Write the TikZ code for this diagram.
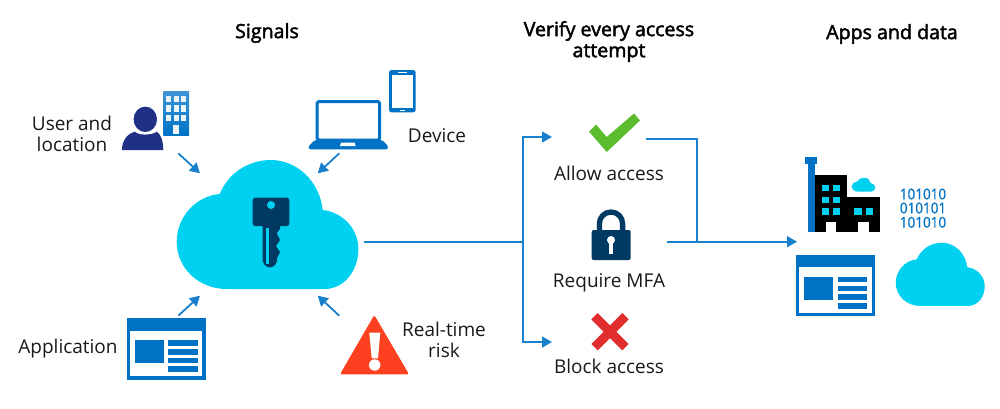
\documentclass[tikz,border=0pt]{standalone}
\usepackage{fontspec}
\setmainfont{Open Sans}
\newfontfamily\headfont[FakeBold=2.2]{Open Sans}
\newfontfamily\bitsfont[FakeStretch=0.9,FakeBold=0.5]{Open Sans}
\usetikzlibrary{arrows.meta}
\definecolor{flowblue}{HTML}{0072C6}
\definecolor{skyblue}{HTML}{00D1F0}
\definecolor{navyblue}{HTML}{003A63}
\definecolor{userblue}{HTML}{1F3085}
\definecolor{checkgreen}{HTML}{5BBD2D}
\definecolor{crossred}{HTML}{E12D2D}
\definecolor{warnred}{HTML}{FC4020}
\tikzset{
  flowline/.style={flowblue!90!white,line width=1.8pt},
  flowarrow/.style={flowline,-{Triangle[length=10pt,width=11pt]}},
  label/.style={font=\fontsize{19}{21}\selectfont,align=center,inner sep=0pt,text=black!90},
  heading/.style={font=\headfont\fontsize{19.6}{21}\selectfont,align=center,inner sep=0pt},
  bits/.style={font=\bitsfont\fontsize{15}{15}\selectfont,text=flowblue,inner sep=0pt},
  cloudshape/.pic={
    \fill (50,129) -- (148,129) .. controls (167,129) and (181.7,111) .. (181.7,89)
      .. controls (181.7,68) and (165,52) .. (146,50) .. controls (143,22) and (121,0) .. (94,0)
      .. controls (71,0) and (51,14) .. (43,34) .. controls (19,36) and (0,57) .. (0,82)
      .. controls (0,108) and (22,129) .. (50,129) -- cycle ;
  },
  appwindow/.pic={
    \fill [flowblue] (0,0) rectangle (79,61.7) ;
    \fill [white] (3.3,12.7) rectangle (75.6,58) ;
    \fill [flowblue] (8,22) rectangle (37.3,45.3) ;
    \fill [flowblue] (41.6,22) rectangle (71.3,27.7) ;
    \fill [flowblue] (41.6,31) rectangle (71.3,36.7) ;
    \fill [flowblue] (41.6,39.7) rectangle (71.3,45.3) ;
    \fill [flowblue] (41.6,48) rectangle (71.3,54) ;
  },
}
\begin{document}
\begin{tikzpicture}[x=1pt,y=-1pt]
                \useasboundingbox (0,0) rectangle (1000,408) ;
                % headings
                \draw (267,33) node [heading] (signals) {Signals} ;
                \draw (609,41.5) node [heading] (verify) {Verify every access\\attempt} ;
                \draw (892,34) node [heading] (apps) {Apps and data} ;
                % signals
                \draw (72,134) node [label] (user) {User and\\location} ;
                \draw (437,135.5) node [label] (device) {Device} ;
                \draw (68,348.5) node [label] (application) {Application} ;
                \draw (444,340) node [label] (risk) {Real-time\\risk} ;
                % person and building
                \fill [userblue] (145.3,119.3) ellipse (11.7 and 12.7) ;
                \fill [userblue] (122,150) .. controls (122,142) and (126,134) .. (135,131.7) .. controls (138,135.5) and (152,135.5) .. (156.7,131.7) .. controls (161,134) and (163.3,142) .. (163.3,150) -- cycle ;
                \shade [top color=flowblue!75!white,bottom color=flowblue] (163.3,91) rectangle (189,135) ;
                \foreach \px in {166,173.7,181.3}
                  \foreach \py in {95.7,105.3,115}
                    \fill [white!92!flowblue] (\px,\py) rectangle (\px+5,\py+6.3) ;
                \fill [white!92!flowblue] (173.3,125.3) rectangle (178.7,134) ;
                % laptop and phone
                \draw [flowblue,line width=3pt,rounded corners=1.5pt] (317.2,101.5) rectangle (379.5,140) ;
                \fill [flowblue,rounded corners=1.5pt] (315,140) -- (382,140) -- (388,146) -- (388,149.3) -- (308.7,149.3) -- (308.7,146) -- cycle ;
                \fill [white] (341,142.7) -- (354.7,142.7) -- (355.7,146) -- (340,146) -- cycle ;
                \fill [flowblue,rounded corners=2.5pt] (389,70) rectangle (415.7,112.3) ;
                \fill [white] (392,75) rectangle (412.7,108.3) ;
                \fill [white] (398,71.7) rectangle (406.7,73.3) ;
                \fill [white] (400,109.7) rectangle (405,111) ;
                % main cloud and key
                \path [fill=skyblue] (176.7,160) pic {cloudshape} ;
                \fill [navyblue,rounded corners=2.5pt] (252.7,197.7) rectangle (289.3,226) ;
                \fill [navyblue] (262.7,224) -- (280,224) -- (280,229) -- (276.7,233) -- (280,240) -- (276,246) -- (280,252) -- (277,258) -- (277,261) .. controls (275,269) and (265,270) .. (262.7,261) -- cycle ;
                \fill [skyblue] (271,205) circle (4) ;
                \fill [skyblue] (265.7,227.5) rectangle (269,263.5) ;
                % application
                \path (126.7,318) pic {appwindow} ;
                % warning sign
                \fill [warnred,rounded corners=1.5pt] (374.3,315) -- (409,374.3) -- (340,374.3) -- cycle ;
                \fill [white] (369.3,332.7) -- (380.3,332.7) -- (378,358.3) -- (371.7,358.3) -- cycle ;
                \fill [white] (374.7,365) circle (5.7) ;
                % check, lock and cross
                \fill [checkgreen] (589,131.5) -- (596,124.5) -- (606.7,137) -- (634,113.5) -- (640,120.5) -- (606.7,152) -- cycle ;
                \draw (609,173) node [label] (allow) {Allow access} ;
                \draw [navyblue,line width=5.3pt] (599.4,232) -- (599.4,223.6) arc [start angle=180,end angle=360,radius=11.6] -- (622.6,232) ;
                \fill [navyblue,rounded corners=2pt] (591.7,230) rectangle (630.7,260) ;
                \fill [white] (611,240) circle (4) ;
                \fill [white] (609.3,240) rectangle (612.7,254) ;
                \draw (609,282.5) node [label] (mfa) {Require MFA} ;
                \draw [crossred,line width=9pt] (594.5,316.2) -- (625.5,347.2) ;
                \draw [crossred,line width=9pt] (625.5,316.2) -- (594.5,347.2) ;
                \draw (609,366) node [label] (block) {Block access} ;
                % factory and data
                \fill [flowblue] (807.7,163.3) rectangle (815,231.7) ;
                \fill [flowblue] (805.3,156.7) rectangle (817.3,164) ;
                \fill [black] (815,175.3) rectangle (847.3,231.7) ;
                \fill [black] (847.3,196.7) rectangle (880,231.7) ;
                \fill [white] (826,221.7) rectangle (836,231.7) ;
                \fill [white] (858.3,221.7) rectangle (868.7,231.7) ;
                \foreach \px in {821.7,832.7}
                  \foreach \py in {184.7,196.7,208.3}
                    \fill [skyblue] (\px,\py) rectangle (\px+7.5,\py+6.7) ;
                \foreach \px in {854.3,865.7}
                  \fill [skyblue] (\px,208.3) rectangle (\px+7.5,215) ;
                \path [fill=skyblue] (851.7,177.7) pic [xscale=.13,yscale=.108] {cloudshape} ;
                \draw (923,194) node [bits] (bitsa) {101010} ;
                \draw (923,208) node [bits] (bitsb) {010101} ;
                \draw (923,222.3) node [bits] (bitsc) {101010} ;
                \path (796,254.7) pic {appwindow} ;
                \path [fill=skyblue] (895.7,242.7) pic [scale=.49] {cloudshape} ;
                % connectors
                \coordinate (usertail) at (178.3,153.3) ;
                \coordinate (usertip) at (200,173.3) ;
                \coordinate (devicetail) at (339.3,153.3) ;
                \coordinate (devicetip) at (317.7,173.3) ;
                \coordinate (apptail) at (178.3,315.7) ;
                \coordinate (apptip) at (200,295.7) ;
                \coordinate (risktail) at (339.3,315.7) ;
                \coordinate (risktip) at (317.7,295.7) ;
                \draw [flowarrow] (usertail) -- (usertip) ;
                \draw [flowarrow] (devicetail) -- (devicetip) ;
                \draw [flowarrow] (apptail) -- (apptip) ;
                \draw [flowarrow] (risktail) -- (risktip) ;
                \coordinate (cloudout) at (364,241.7) ;
                \coordinate (fork) at (523,241.7) ;
                \coordinate (allowin) at (552,137) ;
                \coordinate (blockin) at (552,342) ;
                \coordinate (allowout) at (646,139) ;
                \coordinate (join) at (697,241.7) ;
                \coordinate (mfaout) at (667,241.7) ;
                \coordinate (appsin) at (797,241.7) ;
                \draw [flowline] (cloudout) -- (fork) ;
                \draw [flowarrow] (fork) |- (allowin) ;
                \draw [flowarrow] (fork) |- (blockin) ;
                \draw [flowline] (allowout) -| (join) ;
                \draw [flowarrow] (mfaout) -- (appsin) ;
\end{tikzpicture}
\end{document}
